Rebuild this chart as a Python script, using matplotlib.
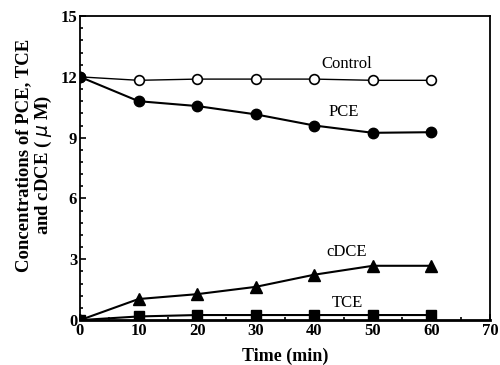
import matplotlib.pyplot as plt
from matplotlib.ticker import MultipleLocator

plt.rcParams['font.family'] = ['Liberation Serif', 'DejaVu Serif']

time = [0, 10, 20, 30, 40, 50, 60]
control = [12.0, 11.83, 11.89, 11.89, 11.89, 11.83, 11.83]
pce = [12.0, 10.8, 10.56, 10.15, 9.6, 9.24, 9.27]
cdce = [0.0, 1.04, 1.28, 1.64, 2.24, 2.68, 2.68]
tce = [0.0, 0.18, 0.25, 0.25, 0.25, 0.25, 0.25]

fig = plt.figure(figsize=(5.0, 3.65), dpi=100)
ax = fig.add_axes([0.16, 0.123, 0.82, 0.833])

ax.plot(time, control, color='black', lw=1.0, marker='o', ms=7,
        mfc='white', mec='black', mew=1.2, zorder=3)
ax.plot(time, pce, color='black', lw=1.5, marker='o', ms=7.5, zorder=3)
ax.plot(time, cdce, color='black', lw=1.5, marker='^', ms=8.5, zorder=3)
ax.plot(time, tce, color='black', lw=1.5, marker='s', ms=7, zorder=3)

ax.text(45.6, 12.63, "Control", fontsize=12, ha='center', va='center')
ax.text(45.0, 10.26, "PCE", fontsize=12, ha='center', va='center')
ax.text(45.6, 3.35, "cDCE", fontsize=12, ha='center', va='center')
ax.text(45.6, 0.84, "TCE", fontsize=12, ha='center', va='center')

ax.set_xlim(0, 70)
ax.set_ylim(0, 15)
ax.xaxis.set_major_locator(MultipleLocator(10))
ax.xaxis.set_minor_locator(MultipleLocator(5))
ax.yaxis.set_major_locator(MultipleLocator(3))
ax.yaxis.set_minor_locator(MultipleLocator(0.6))
ax.tick_params(which='both', direction='in', top=False, right=False,
               labelsize=12, width=1.2)
ax.tick_params(which='major', length=4, pad=2)
ax.tick_params(which='minor', length=2.5)
for lab in ax.get_xticklabels() + ax.get_yticklabels():
    lab.set_fontweight('bold')
for s in ax.spines.values():
    s.set_linewidth(1.3)
ax.spines['bottom'].set_linewidth(2.0)

ax.set_xlabel("Time (min)", fontsize=13, fontweight='bold', labelpad=6)

# y label: two lines, second line sits a bit lower than the first
fig.text(0.048, 1 - 155 / 365, "Concentrations of PCE, TCE", rotation=90,
         fontsize=13.5, fontweight='bold', ha='center', va='center')
fig.text(0.086, 1 - 165 / 365, "and cDCE ( $\\mu$ M)", rotation=90,
         fontsize=13.5, fontweight='bold', ha='center', va='center')

fig.savefig("out.png", dpi=100)
